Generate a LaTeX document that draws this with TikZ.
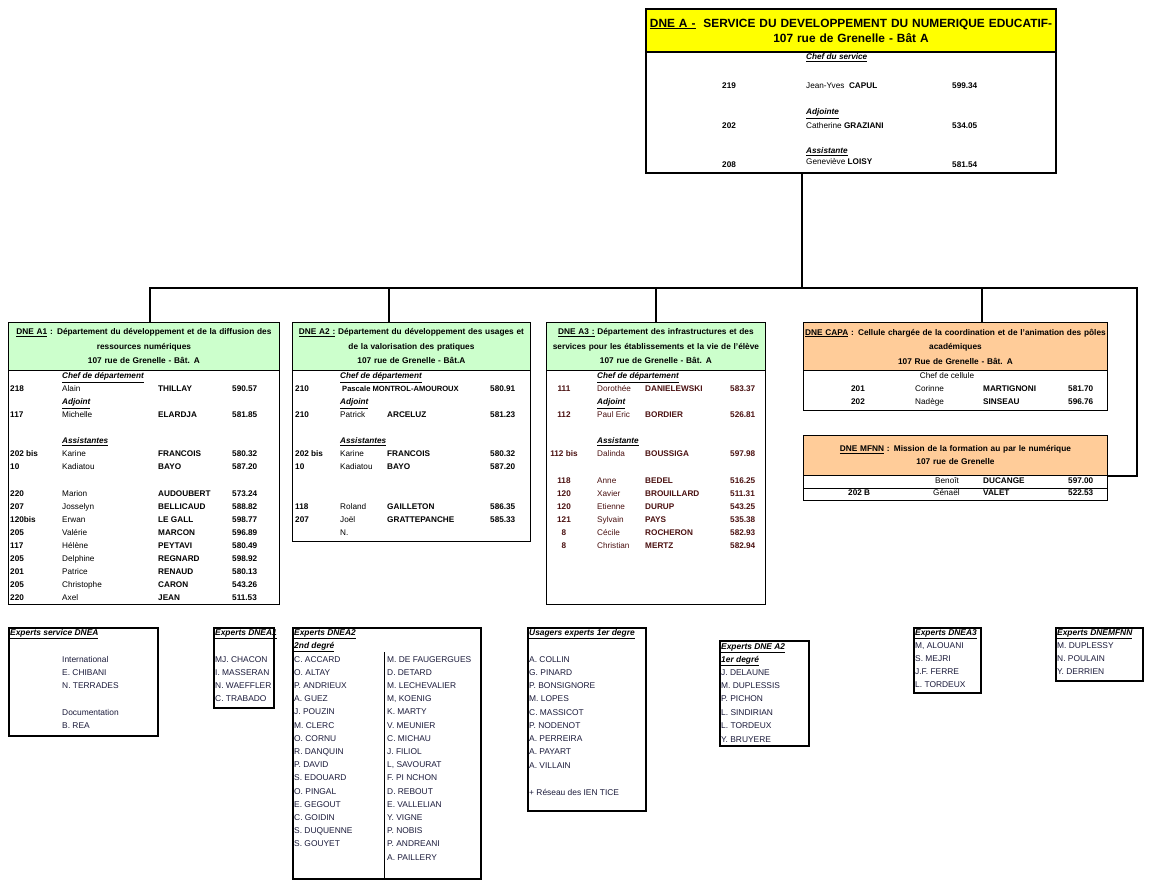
\documentclass[tikz,border=0pt]{standalone}
\usepackage{fontspec}
\setmainfont{Liberation Sans}
\definecolor{jaune}{HTML}{FFFF00}
\definecolor{vert}{HTML}{CCFFCC}
\definecolor{saumon}{HTML}{FFCC99}
\definecolor{bordeaux}{HTML}{4A1010}
\definecolor{marine}{HTML}{1A1A3A}
\tikzstyle{dept} = [draw, line width=0.9pt, anchor=north west, inner sep=0pt]
\tikzstyle{headbox} = [draw, line width=0.9pt, anchor=north west, inner sep=0pt, align=center, font=\fontsize{8.3}{14.5}\selectfont\bfseries]
\tikzstyle{txt} = [anchor=base west, yshift=-2.9pt, inner sep=0pt, font=\fontsize{8.2}{9}\selectfont]
\tikzstyle{txtb} = [txt, font=\fontsize{8.2}{9}\selectfont\bfseries]
\tikzstyle{tnum} = [anchor=base, yshift=-2.9pt, inner sep=0pt, font=\fontsize{8.2}{9}\selectfont\bfseries]
\tikzstyle{role} = [txt, font=\fontsize{8.2}{9}\selectfont\bfseries\itshape]
\tikzstyle{expbox} = [draw, line width=1.8pt, anchor=north west, inner sep=0pt]
\tikzstyle{expname} = [anchor=base west, yshift=-3pt, inner sep=0pt, text=marine, font=\fontsize{8.4}{10}\selectfont]
\tikzstyle{exptitle} = [expname, text=black, font=\fontsize{8.4}{10}\selectfont\bfseries\itshape]
\tikzstyle{conn} = [line width=1.6pt]
\begin{document}
\begin{tikzpicture}[x=1pt,y=-1pt]
	\useasboundingbox (0,0) rectangle (1154,881);
	\node[dept, line width=2pt, minimum width=410pt, minimum height=164pt] (dnea) at (645,8) {};
	\node[headbox, line width=2pt, fill=jaune, text width=410pt, minimum height=43pt,
		font=\fontsize{11.9}{15}\selectfont\bfseries] (dneahead) at (645,8)
		{\underline{DNE A -}\ \ SERVICE DU DEVELOPPEMENT DU NUMERIQUE EDUCATIF-\\ 107 rue de Grenelle - Bât A};
	\node[role] (dnearole1) at (806,57) {\underline{Chef du service}};
	\node[txtb] (dneanum1) at (722,86) {219};
	\node[txt] (dneanom1) at (806,86) {Jean-Yves\ \ \textbf{CAPUL}};
	\node[txtb] (dneatel1) at (952,86) {599.34};
	\node[role] (dnearole2) at (806,112) {\underline{Adjointe}};
	\node[txtb] (dneanum2) at (722,126) {202};
	\node[txt] (dneanom2) at (806,126) {Catherine \textbf{GRAZIANI}};
	\node[txtb] (dneatel2) at (952,126) {534.05};
	\node[role] (dnearole3) at (806,151) {\underline{Assistante}};
	\node[txtb] (dneanum3) at (722,165) {208};
	\node[txt] (dneanom3) at (806,162) {Geneviève \textbf{LOISY}};
	\node[txtb] (dneatel3) at (952,165) {581.54};
	
	\node[dept, minimum width=271pt, minimum height=282pt] (a1) at (8,322) {};
	\node[headbox, fill=vert, text width=271pt, minimum height=48pt] (a1head) at (8,322)
		{\underline{DNE A1} : Département du développement et de la diffusion des\\ ressources numériques\\ 107 rue de Grenelle - Bât. A};
	\node[role] (a1role1) at (62,376) {\underline{Chef de département}};
	\node[role] (a1role2) at (62,402) {\underline{Adjoint}};
	\node[role] (a1role3) at (62,441) {\underline{Assistantes}};
	\foreach \ypos/\num/\prenom/\nom/\tel in {389/218/Alain/THILLAY/590.57, 415/117/Michelle/ELARDJA/581.85,
		454/202 bis/Karine/FRANCOIS/580.32, 467/10/Kadiatou/BAYO/587.20, 494/220/Marion/AUDOUBERT/573.24,
		507/207/Josselyn/BELLICAUD/588.82, 520/120bis/Erwan/LE GALL/598.77, 533/205/Valérie/MARCON/596.89,
		546/117/Hélène/PEYTAVI/580.49, 559/205/Delphine/REGNARD/598.92, 572/201/Patrice/RENAUD/580.13,
		585/205/Christophe/CARON/543.26, 598/220/Axel/JEAN/511.53} {
		\node[txtb] (a1num\ypos) at (10,\ypos) {\num};
		\node[txt] (a1pre\ypos) at (62,\ypos) {\prenom};
		\node[txtb] (a1nom\ypos) at (158,\ypos) {\nom};
		\node[txtb] (a1tel\ypos) at (232,\ypos) {\tel};
	}
	
	\node[dept, minimum width=238pt, minimum height=219pt] (a2) at (292,322) {};
	\node[headbox, fill=vert, text width=238pt, minimum height=48pt] (a2head) at (292,322)
		{\underline{DNE A2 :} Département du développement des usages et\\ de la valorisation des pratiques\\ 107 rue de Grenelle - Bât.A};
	\node[role] (a2role1) at (340,376) {\underline{Chef de département}};
	\node[role] (a2role2) at (340,402) {\underline{Adjoint}};
	\node[role] (a2role3) at (340,441) {\underline{Assistantes}};
	\node[txtb] (a2num389) at (295,389) {210};
	\node[txtb, font=\fontsize{7.6}{8}\selectfont\bfseries] (a2pre389) at (342,389) {Pascale MONTROL-AMOUROUX};
	\node[txtb] (a2tel389) at (490,389) {580.91};
	\foreach \ypos/\num/\prenom/\nom/\tel in {415/210/Patrick/ARCELUZ/581.23, 454/202 bis/Karine/FRANCOIS/580.32,
		467/10/Kadiatou/BAYO/587.20, 507/118/Roland/GAILLETON/586.35, 520/207/Joël/GRATTEPANCHE/585.33} {
		\node[txtb] (a2num\ypos) at (295,\ypos) {\num};
		\node[txt] (a2pre\ypos) at (340,\ypos) {\prenom};
		\node[txtb] (a2nom\ypos) at (387,\ypos) {\nom};
		\node[txtb] (a2tel\ypos) at (490,\ypos) {\tel};
	}
	\node[txt] (a2vacant) at (340,533) {N.};
	
	\node[dept, minimum width=219pt, minimum height=282pt] (a3) at (546,322) {};
	\node[headbox, fill=vert, text width=219pt, minimum height=48pt] (a3head) at (546,322)
		{\underline{DNE A3 :} Département des infrastructures et des\\ services pour les établissements et la vie de l'élève\\ 107 rue de Grenelle - Bât. A};
	\node[role] (a3role1) at (597,376) {\underline{Chef de département}};
	\node[role] (a3role2) at (597,402) {\underline{Adjoint}};
	\node[role] (a3role3) at (597,441) {\underline{Assistante}};
	\foreach \ypos/\num/\prenom/\nom/\tel in {389/111/Dorothée/DANIELEWSKI/583.37, 415/112/Paul Eric/BORDIER/526.81,
		454/112 bis/Dalinda/BOUSSIGA/597.98, 481/118/Anne/BEDEL/516.25, 494/120/Xavier/BROUILLARD/511.31,
		507/120/Etienne/DURUP/543.25, 520/121/Sylvain/PAYS/535.38, 533/8/Cécile/ROCHERON/582.93,
		546/8/Christian/MERTZ/582.94} {
		\node[tnum, text=bordeaux] (a3num\ypos) at (564,\ypos) {\num};
		\node[txt, text=bordeaux] (a3pre\ypos) at (597,\ypos) {\prenom};
		\node[txtb, text=bordeaux] (a3nom\ypos) at (645,\ypos) {\nom};
		\node[txtb, text=bordeaux] (a3tel\ypos) at (730,\ypos) {\tel};
	}
	
	\node[dept, minimum width=304pt, minimum height=88pt] (capa) at (803,322) {};
	\node[headbox, fill=saumon, text width=304pt, minimum height=48pt] (capahead) at (803,322)
		{\underline{DNE CAPA} : Cellule chargée de la coordination et de l'animation des pôles\\ académiques\\ 107 Rue de Grenelle - Bât. A};
	\node[txt, anchor=base] (caparole) at (947,376) {Chef de cellule};
	\foreach \ypos/\num/\prenom/\nom/\tel in {389/201/Corinne/MARTIGNONI/581.70, 402/202/Nadège/SINSEAU/596.76} {
		\node[tnum] (capanum\ypos) at (858,\ypos) {\num};
		\node[txt] (capapre\ypos) at (915,\ypos) {\prenom};
		\node[txtb] (capanom\ypos) at (983,\ypos) {\nom};
		\node[txtb] (capatel\ypos) at (1068,\ypos) {\tel};
	}
	
	\node[dept, minimum width=304pt, minimum height=65pt] (mfnn) at (803,435) {};
	\node[headbox, fill=saumon, text width=304pt, minimum height=40pt, font=\fontsize{8.3}{13}\selectfont\bfseries] (mfnnhead) at (803,435)
		{\underline{DNE MFNN} : Mission de la formation au par le numérique\\ 107 rue de Grenelle};
	\draw[line width=0.9pt] (803,488) -- (1107,488);
	\node[txt] (mfnnpre1) at (935,481) {Benoît};
	\node[txtb] (mfnnnom1) at (983,481) {DUCANGE};
	\node[txtb] (mfnntel1) at (1068,481) {597.00};
	\node[txtb] (mfnnnum2) at (848,493) {202 B};
	\node[txt] (mfnnpre2) at (933,493) {Génaël};
	\node[txtb] (mfnnnom2) at (983,493) {VALET};
	\node[txtb] (mfnntel2) at (1068,493) {522.53};
	
	\coordinate (trunk) at (802,288);
	\coordinate (busw) at (150,288);
	\coordinate (buse) at (1137,288);
	\coordinate (a2c) at (389,288);
	\coordinate (a3c) at (656,288);
	\coordinate (capac) at (982,288);
	\draw[conn] (dnea.south -| trunk) -- (trunk);
	\draw[conn] (busw |- a1head.north) -- (busw) -- (buse) -- (buse |- mfnnhead.south east) -- (mfnnhead.south east);
	\draw[conn] (a2c) -- (a2c |- a2head.north);
	\draw[conn] (a3c) -- (a3c |- a3head.north);
	\draw[conn] (capac) -- (capac |- capahead.north);
	
	\node[expbox, minimum width=149pt, minimum height=108pt] (expdnea) at (8,627) {};
	\node[exptitle] (expdneatitle) at (10,632) {\underline{Experts service DNEA}};
	\foreach \ypos/\nom in {659/International, 672/E. CHIBANI, 685/N. TERRADES, 712/Documentation, 725/B. REA}
		\node[expname] (expdnea\ypos) at (62,\ypos) {\nom};
	
	\node[expbox, minimum width=60pt, minimum height=80pt] (expa1) at (213,627) {};
	\node[exptitle] (expa1title) at (215,632) {\underline{Experts DNEA1}};
	\foreach \nom [count=\i] in {MJ. CHACON, I. MASSERAN, N. WAEFFLER, C. TRABADO}
		\node[expname] (expa1\i) at (215,{659+13*(\i-1)}) {\nom};
	
	\node[expbox, minimum width=188pt, minimum height=251pt] (expa2) at (292,627) {};
	\node[exptitle] (expa2title) at (294,632) {\underline{Experts DNEA2}};
	\node[exptitle] (expa2sub) at (294,645) {\underline{2nd degré}};
	\draw[line width=0.9pt] (384,652) -- (384,878);
	\foreach \nom [count=\i] in {C. ACCARD, O. ALTAY, P. ANDRIEUX, A. GUEZ, J. POUZIN, M. CLERC, O. CORNU, R. DANQUIN,
		P. DAVID, S. EDOUARD, O. PINGAL, E. GEGOUT, C. GOIDIN, S. DUQUENNE, S. GOUYET}
		\node[expname] (expa2g\i) at (294,{659+13.2*(\i-1)}) {\nom};
	\foreach \nom [count=\i] in {M. DE FAUGERGUES, D. DETARD, M. LECHEVALIER, {M, KOENIG}, K. MARTY, V. MEUNIER,
		C. MICHAU, J. FILIOL, {L, SAVOURAT}, F. PI NCHON, D. REBOUT, E. VALLELIAN, Y. VIGNE, P. NOBIS, P. ANDREANI, A. PAILLERY}
		\node[expname] (expa2d\i) at (387,{659+13.2*(\i-1)}) {\nom};
	
	\node[expbox, minimum width=118pt, minimum height=183pt] (usagers) at (527,627) {};
	\node[exptitle] (usagerstitle) at (529,632) {\underline{Usagers experts 1er degre}};
	\foreach \nom [count=\i] in {A. COLLIN, G. PINARD, P. BONSIGNORE, M. LOPES, C. MASSICOT, P. NODENOT, A. PERREIRA,
		A. PAYART, A. VILLAIN}
		\node[expname] (usagers\i) at (529,{659+13.25*(\i-1)}) {\nom};
	\node[expname] (usagersien) at (529,792) {+ Réseau des IEN TICE};
	
	\node[expbox, minimum width=89pt, minimum height=105pt] (expa2p) at (719,640) {};
	\node[exptitle] (expa2ptitle) at (721,646) {\underline{Experts DNE A2}};
	\node[exptitle] (expa2psub) at (721,659) {\underline{1er degré}};
	\foreach \nom [count=\i] in {J. DELAUNE, M. DUPLESSIS, P. PICHON, L. SINDIRIAN, L. TORDEUX, Y. BRUYERE}
		\node[expname] (expa2p\i) at (721,{672+13.4*(\i-1)}) {\nom};
	
	\node[expbox, minimum width=67pt, minimum height=65pt] (expa3) at (913,627) {};
	\node[exptitle] (expa3title) at (915,632) {\underline{Experts DNEA3}};
	\foreach \nom [count=\i] in {{M, ALOUANI}, S. MEJRI, J.F. FERRE, L. TORDEUX}
		\node[expname] (expa3\i) at (915,{645+13.3*(\i-1)}) {\nom};
	
	\node[expbox, minimum width=87pt, minimum height=53pt] (expmfnn) at (1055,627) {};
	\node[exptitle] (expmfnntitle) at (1057,632) {\underline{Experts DNEMFNN}};
	\foreach \nom [count=\i] in {M. DUPLESSY, N. POULAIN, Y. DERRIEN}
		\node[expname] (expmfnn\i) at (1057,{645+13.3*(\i-1)}) {\nom};
\end{tikzpicture}
\end{document}
